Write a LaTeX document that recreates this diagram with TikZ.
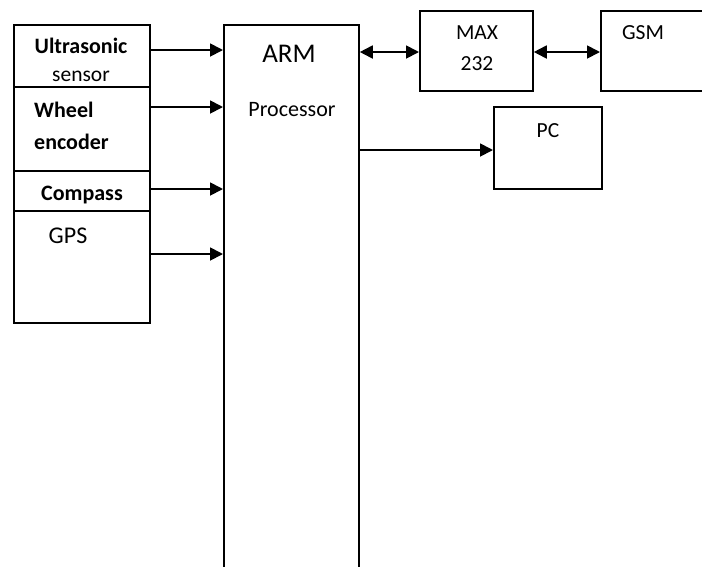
\documentclass[tikz,border=0pt]{standalone}
\usepackage{fontspec}
\setmainfont{Carlito}
\usetikzlibrary{arrows.meta}

\tikzset{
  blk/.style={draw, line width=1.8pt, inner sep=0pt, anchor=north west},
  arr/.style={line width=1.8pt, -{Triangle[length=13pt,width=13pt]}},
  darr/.style={line width=1.8pt, {Triangle[length=13pt,width=13pt]}-{Triangle[length=13pt,width=13pt]}},
  txt/.style={inner sep=0pt, font=\fontsize{21.5}{24}\selectfont},
  btxt/.style={inner sep=0pt, font=\fontsize{22}{24}\selectfont\bfseries}
}

\begin{document}
\begin{tikzpicture}[x=1pt,y=-1pt]
\clip (0,0) rectangle (702,566);

% sensor column
\node[blk, minimum width=136, minimum height=62] (ultra) at (13,24) {};
\node[blk, minimum width=136, minimum height=84] (wheel) at (13,86) {};
\node[blk, minimum width=136, minimum height=40] (compass) at (13,170) {};
\node[blk, minimum width=136, minimum height=112] (gps) at (13,210) {};

% processor and outputs
\node[blk, minimum width=135, minimum height=600] (arm) at (223,24) {};
\node[blk, minimum width=113, minimum height=80] (max) at (419,10) {};
\node[blk, minimum width=150, minimum height=80] (gsm) at (600,10) {};
\node[blk, minimum width=108, minimum height=82] (pc) at (493,106) {};

% texts
\node[btxt] (ultratxt) at (81,46) {Ultrasonic};
\node[txt] (sensortxt) at (81,76) {sensor};
\node[btxt, anchor=west] (wheeltxt) at (34,110) {Wheel};
\node[btxt, anchor=west] (enctxt) at (34,142) {encoder};
\node[btxt] (comptxt) at (82,195) {Compass};
\node[txt, font=\fontsize{24}{28}\selectfont] (gpstxt) at (68,236) {GPS};
\node[txt, font=\fontsize{27}{30}\selectfont] (armtxt) at (289,54) {ARM};
\node[txt, font=\fontsize{22}{26}\selectfont] (proctxt) at (292,110) {Processor};
\node[txt] (maxtxt) at (477,33) {MAX};
\node[txt] (numtxt) at (477,64) {232};
\node[txt] (gsmtxt) at (643,33) {GSM};
\node[txt] (pctxt) at (548,131) {PC};

% connectors
\draw[arr] (ultra.east |- 0,50) -- (arm.west |- 0,50);
\draw[arr] (wheel.east |- 0,107) -- (arm.west |- 0,107);
\draw[arr] (compass.east |- 0,189) -- (arm.west |- 0,189);
\draw[arr] (gps.east |- 0,254) -- (arm.west |- 0,254);
\draw[darr] (arm.east |- 0,52) -- (max.west |- 0,52);
\draw[darr] (max.east |- 0,52) -- (gsm.west |- 0,52);
\draw[arr] (arm.east |- 0,150) -- (pc.west |- 0,150);

\end{tikzpicture}
\end{document}
